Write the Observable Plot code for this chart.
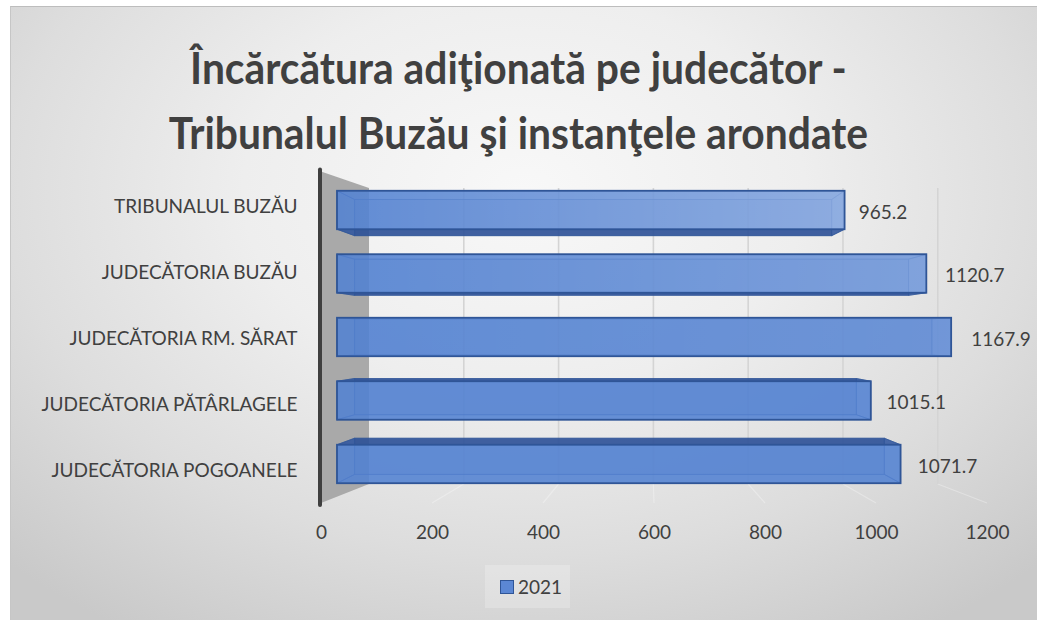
<!DOCTYPE html>
<html><head><meta charset="utf-8">
<script src="https://cdn.jsdelivr.net/npm/d3@7"></script>
<script src="https://cdn.jsdelivr.net/npm/@observablehq/plot@0.6"></script>
<style>
html,body{margin:0;padding:0;background:#fff;}
#page{position:relative;width:1037px;height:620px;overflow:hidden;background:#fff;font-family:Lato,"Open Sans",sans-serif;}
#panel{position:absolute;left:10px;top:6px;width:1027px;height:614px;box-sizing:border-box;
  border-top:1px solid #bdbdbd;border-left:1px solid #c6c6c6;
  background:radial-gradient(ellipse 72% 85% at 50% 30%, #f8f8f8 0%, #eeeeee 38%, #dddddd 70%, #c9c9c9 100%);}
.title{position:absolute;left:0;width:1037px;text-align:center;font-weight:700;font-size:43px;line-height:43px;color:#404040;white-space:nowrap;transform:scaleX(0.948);transform-origin:518px 0;}
#chart{position:absolute;left:0;top:160px;}
#legend{position:absolute;left:485px;top:565px;width:85px;height:43px;background:rgba(255,255,255,0.22);}
#legend .sw{position:absolute;left:15px;top:15px;width:12px;height:12px;background:#5b87d4;border:1px solid #2f5597;}
#legend .lb{position:absolute;left:33px;top:0;height:43px;line-height:43px;font-size:19px;color:#404040;}
</style></head>
<body>
<div id="page">
  <div id="panel"></div>
  <div class="title" style="top:46px">Încărcătura adiţionată pe judecător -</div>
  <div class="title" style="top:111px">Tribunalul Buzău şi instanţele arondate</div>
  <div id="chart"></div>
  <div id="legend"><div class="sw"></div><div class="lb">2021</div></div>
</div>
<script>
const categories = ["TRIBUNALUL BUZĂU", "JUDECĂTORIA BUZĂU", "JUDECĂTORIA RM. SĂRAT", "JUDECĂTORIA PĂTÂRLAGELE", "JUDECĂTORIA POGOANELE"];
const values2021 = [965.2, 1120.7, 1167.9, 1015.1, 1071.7];
const xTicks = [0, 200, 400, 600, 800, 1000, 1200];
const seriesName = "2021";

const rows = categories.map((name, i) => ({name, value: values2021[i], series: seriesName}));

function walls(index, scales, channels, dims) {
  const X = scales.x, X0 = X(0);
  const top = dims.marginTop, bottom = dims.height - dims.marginBottom;
  const bxw = x => X0 + 48 + (x - X0) * 0.854;
  const backTop = top + 15.5, backBottom = bottom - 19;
  const g = d3.create("svg:g");
  for (const v of xTicks.slice(1)) {
    g.append("line").attr("x1", bxw(X(v))).attr("y1", backBottom).attr("x2", X(v)).attr("y2", bottom)
      .attr("stroke", "#ffffff").attr("stroke-opacity", 0.3).attr("stroke-width", 1.2);
  }
  for (const v of xTicks.slice(1)) {
    g.append("line").attr("x1", bxw(X(v))).attr("y1", backTop).attr("x2", bxw(X(v))).attr("y2", backBottom)
      .attr("stroke", "#d4d4d4").attr("stroke-width", 1.6);
  }
  g.append("polygon")
    .attr("points", [[X0, top - 1], [bxw(X0), backTop], [bxw(X0), backBottom], [X0, bottom]].map(p => p.join(",")).join(" "))
    .attr("fill", "#a9a9a9");
  g.append("line").attr("x1", X0 - 1).attr("x2", X0 - 1).attr("y1", top - 3).attr("y2", bottom + 2)
    .attr("stroke", "#3f3f3f").attr("stroke-width", 4).attr("stroke-linecap", "round");
  return g.node();
}

function bars3d(index, scales, channels, dims) {
  const X = scales.x, Y = scales.y, bw = Y.bandwidth();
  const X0 = X(0);
  const mid = (dims.marginTop + dims.height - dims.marginBottom) / 2;
  const fx = x => X0 + 16 + (x - X0) * 0.9475;
  const fy = y => mid - 1 + (y - mid) * 0.962;
  const P = [630, mid - 1.5], k = 0.94;
  const bx = x => P[0] + (x - P[0]) * k, by = y => P[1] + (y - P[1]) * k;
  const poly = pts => pts.map(p => p.join(",")).join(" ");
  const g = d3.create("svg:g");
  const defs = g.append("defs");
  const gr = defs.append("linearGradient").attr("id", "barLight").attr("x1", 0).attr("x2", 1).attr("y1", 0).attr("y2", 0);
  gr.append("stop").attr("offset", "0%").attr("stop-color", "#fff").attr("stop-opacity", 0);
  gr.append("stop").attr("offset", "100%").attr("stop-color", "#fff").attr("stop-opacity", 0.28);
  for (const i of index) {
    const d = rows[i];
    const yc = fy(Y(d.name) + bw / 2);
    const h = bw * 0.962;
    const x0 = fx(X(0)), x1 = fx(X(d.value));
    const y0 = yc - h / 2, y1 = yc + h / 2;
    const b0 = bx(x0), b1 = bx(x1), b2 = by(y0), b3 = by(y1);
    const bar = g.append("g");
    bar.append("rect").attr("x", b0).attr("y", b2).attr("width", b1 - b0).attr("height", b3 - b2)
      .attr("fill", "#3a64b4").attr("fill-opacity", 0.35).attr("stroke", "#2f5597").attr("stroke-opacity", 0.45);
    const faces = [
      {pts: [[x0, y0], [x1, y0], [b1, b2], [b0, b2]], outer: b2 < y0},
      {pts: [[x0, y1], [x1, y1], [b1, b3], [b0, b3]], outer: b3 > y1},
      {pts: [[x0, y0], [b0, b2], [b0, b3], [x0, y1]], outer: false},
      {pts: [[x1, y0], [b1, b2], [b1, b3], [x1, y1]], outer: false}
    ];
    for (const f of faces) {
      bar.append("polygon").attr("points", poly(f.pts))
        .attr("fill", f.outer ? "#2c4f95" : "#4472c4").attr("fill-opacity", f.outer ? 0.85 : 0.2)
        .attr("stroke", "#2f5597").attr("stroke-opacity", 0.6).attr("stroke-width", 1);
    }
    bar.append("rect").attr("x", x0).attr("y", y0).attr("width", x1 - x0).attr("height", y1 - y0)
      .attr("fill", "#5482d2").attr("fill-opacity", 0.85);
    bar.append("rect").attr("x", x0).attr("y", y0).attr("width", x1 - x0).attr("height", y1 - y0)
      .attr("fill", "url(#barLight)").attr("opacity", Math.max(0, 1 - i * 0.35));
    bar.append("rect").attr("x", x0).attr("y", y0).attr("width", x1 - x0).attr("height", y1 - y0)
      .attr("fill", "none").attr("stroke", "#2f5597").attr("stroke-width", 1.8);
    g.append("text").attr("x", X(d.value) + 2).attr("y", yc + 2).attr("dy", "0.35em")
      .attr("text-anchor", "start").attr("fill", "#404040").attr("font-size", 19).text(String(d.value));
  }
  return g.node();
}

const chart = Plot.plot({
  width: 1037, height: 395,
  marginLeft: 321, marginRight: 50, marginTop: 12.5, marginBottom: 52,
  style: {background: "transparent", fontFamily: "Lato, 'Open Sans', sans-serif", fontSize: "19px", color: "#404040", overflow: "visible"},
  x: {domain: [0, 1200], label: null},
  y: {domain: categories, paddingInner: 0.4, paddingOuter: 0.2, label: null},
  marks: [
    Plot.ruleX(xTicks, {x: d => d, render: walls}),
    Plot.barX(rows, {x: "value", y: "name", render: bars3d}),
    Plot.axisX({ticks: xTicks, tickSize: 0, tickPadding: 22, fontSize: 19, tickFormat: d3.format("d"), label: null}),
    Plot.axisY({tickSize: 0, tickPadding: 24, fontSize: 19, label: null})
  ]
});
document.getElementById("chart").appendChild(chart);
</script>
</body></html>
